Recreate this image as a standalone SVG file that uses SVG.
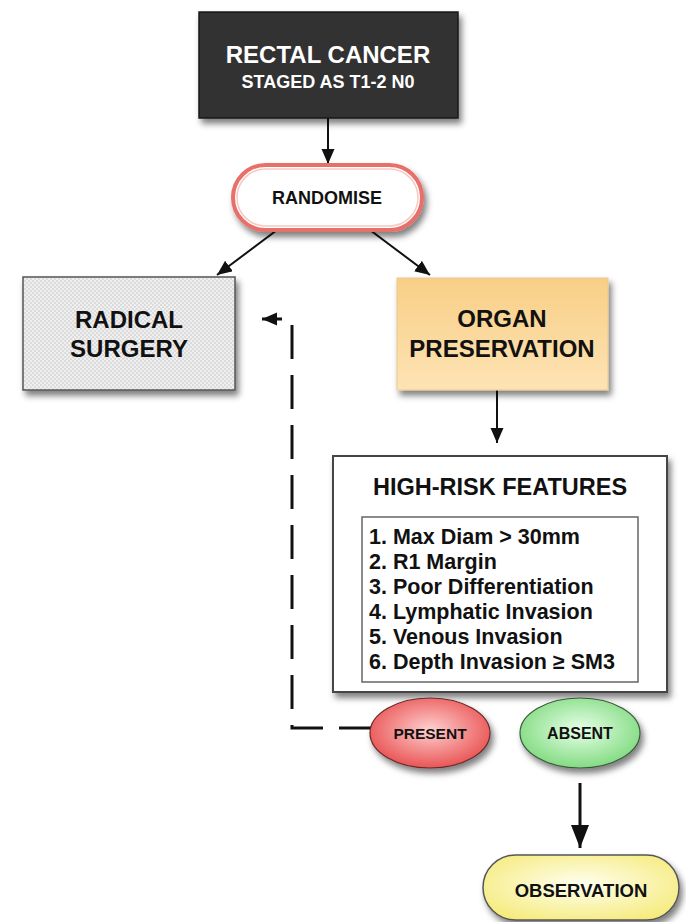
<svg xmlns="http://www.w3.org/2000/svg" width="686" height="922" viewBox="0 0 686 922">
<style>
.t{font-family:"Liberation Sans",Arial,Helvetica,sans-serif;font-weight:bold;fill:#111;text-anchor:middle}
.w{fill:#fff}
.l{text-anchor:start}
.c{fill:none;stroke:#111;stroke-width:2}
.thick{stroke-width:3}
.dash{stroke-width:3;stroke-dasharray:34 16}
</style>
<defs>
<filter id="sh" x="-20%" y="-20%" width="150%" height="150%">
<feDropShadow dx="3" dy="5" stdDeviation="3" flood-color="#000" flood-opacity="0.5"/>
</filter>
<pattern id="chk" width="4" height="4" patternUnits="userSpaceOnUse">
<rect width="4" height="4" fill="#efefef"/>
<rect width="2" height="2" fill="#dcdcdc"/>
<rect x="2" y="2" width="2" height="2" fill="#dcdcdc"/>
</pattern>
<linearGradient id="org" x1="0" y1="0" x2="0" y2="1">
<stop offset="0" stop-color="#f8cf86"/>
<stop offset="1" stop-color="#fde3b4"/>
</linearGradient>
<radialGradient id="red" cx="0.5" cy="0.45" r="0.6">
<stop offset="0" stop-color="#ffd0d0"/>
<stop offset="1" stop-color="#e84a4a"/>
</radialGradient>
<radialGradient id="grn" cx="0.5" cy="0.45" r="0.6">
<stop offset="0" stop-color="#e8ffe8"/>
<stop offset="1" stop-color="#7ad87a"/>
</radialGradient>
<radialGradient id="yel" cx="0.5" cy="0.45" r="0.65">
<stop offset="0" stop-color="#fffff0"/>
<stop offset="1" stop-color="#f5ea78"/>
</radialGradient>
<marker id="ah" markerUnits="userSpaceOnUse" markerWidth="16" markerHeight="14" refX="15" refY="6.5" orient="auto">
<path d="M0,0 L15,6.5 L0,13 z" fill="#111"/>
</marker>
<marker id="ahb" markerUnits="userSpaceOnUse" markerWidth="24" markerHeight="20" refX="23" refY="9" orient="auto">
<path d="M0,0 L23,9 L0,18 z" fill="#111"/>
</marker>
</defs>
<rect width="686" height="922" fill="#fff"/>

<g id="connectors">
<line class="c" x1="328" y1="118" x2="328" y2="164" marker-end="url(#ah)"/>
<line class="c" x1="277" y1="230" x2="217" y2="275" marker-end="url(#ah)"/>
<line class="c" x1="370" y1="230" x2="430" y2="275" marker-end="url(#ah)"/>
<line class="c" x1="497" y1="390" x2="497" y2="443" marker-end="url(#ah)"/>
<line class="c thick" x1="580" y1="783" x2="580" y2="848" marker-end="url(#ahb)"/>
<path class="c dash" d="M373,728 H292 V319 H262" marker-end="url(#ah)"/>
</g>

<g id="rectal-cancer">
<rect x="199" y="12" width="259" height="106" fill="#333" stroke="#1a1a1a" stroke-width="1.5" filter="url(#sh)"/>
<text class="t w" x="328" y="63" font-size="24">RECTAL CANCER</text>
<text class="t w" x="328" y="88" font-size="18">STAGED AS T1-2 N0</text>
</g>

<g id="randomise">
<rect x="233" y="165" width="189" height="65" rx="32.5" fill="#fff" stroke="#e8706a" stroke-width="4" filter="url(#sh)"/>
<rect x="237" y="169" width="181" height="57" rx="28.5" fill="none" stroke="#f8c8c4" stroke-width="1.5"/>
<text class="t" x="327" y="204" font-size="18">RANDOMISE</text>
</g>

<g id="radical-surgery">
<rect x="23" y="277" width="212" height="113" fill="url(#chk)" stroke="#555" stroke-width="1.5" filter="url(#sh)"/>
<text class="t" x="129" y="328" font-size="24">RADICAL</text>
<text class="t" x="129" y="357" font-size="24">SURGERY</text>
</g>

<g id="organ-preservation">
<rect x="397" y="278" width="211" height="112" fill="url(#org)" stroke="#e8c890" stroke-width="1" filter="url(#sh)"/>
<text class="t" x="502" y="327" font-size="24">ORGAN</text>
<text class="t" x="502" y="357" font-size="24">PRESERVATION</text>
</g>

<g id="high-risk-features">
<rect x="333" y="456" width="334" height="236" fill="#fff" stroke="#444" stroke-width="2" filter="url(#sh)"/>
<text class="t" x="500" y="495" font-size="23.5">HIGH-RISK FEATURES</text>
<rect x="362" y="517" width="276" height="165" fill="#fff" stroke="#666" stroke-width="1.5"/>
<text class="t l" x="369" y="544" font-size="21.5">1. Max Diam &gt; 30mm</text>
<text class="t l" x="369" y="569" font-size="21.5">2. R1 Margin</text>
<text class="t l" x="369" y="594" font-size="21.5">3. Poor Differentiation</text>
<text class="t l" x="369" y="619" font-size="21.5">4. Lymphatic Invasion</text>
<text class="t l" x="369" y="644" font-size="21.5">5. Venous Invasion</text>
<text class="t l" x="369" y="669" font-size="21.5">6. Depth Invasion ≥ SM3</text>
</g>

<g id="present">
<ellipse cx="430" cy="733" rx="60" ry="35" fill="url(#red)" stroke="#6a2a2a" stroke-width="1.2" filter="url(#sh)"/>
<text class="t" x="430" y="739" font-size="15.5">PRESENT</text>
</g>

<g id="absent">
<ellipse cx="580" cy="733" rx="60" ry="35" fill="url(#grn)" stroke="#3a5a3a" stroke-width="1.2" filter="url(#sh)"/>
<text class="t" x="580" y="739" font-size="16">ABSENT</text>
</g>

<g id="observation">
<rect x="483" y="855" width="196" height="65" rx="32.5" fill="url(#yel)" stroke="#555" stroke-width="1.5" filter="url(#sh)"/>
<text class="t" x="581" y="897" font-size="18.5">OBSERVATION</text>
</g>
</svg>
